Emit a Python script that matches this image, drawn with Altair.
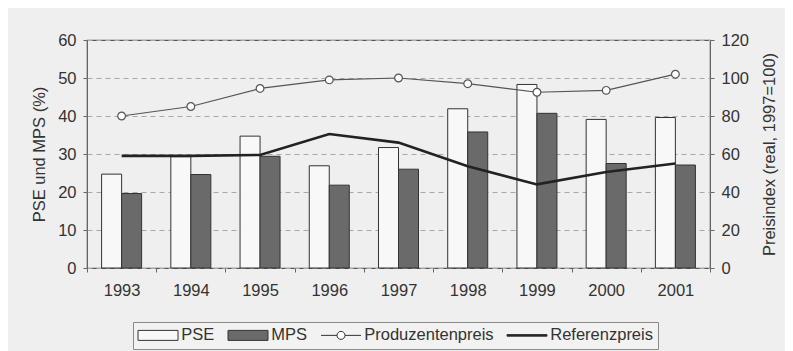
import altair as alt
import pandas as pd

# ---- data ----
years = ["1993", "1994", "1995", "1996", "1997", "1998", "1999", "2000", "2001"]
pse = [24.7, 29.3, 34.7, 26.9, 31.7, 41.9, 48.3, 39.1, 39.6]
mps = [19.6, 24.6, 29.4, 21.8, 26.0, 35.8, 40.7, 27.5, 27.1]
produzentenpreis = [80.0, 85.0, 94.5, 99.0, 100.0, 97.0, 92.5, 93.5, 102.0]
referenzpreis = [59.0, 59.0, 59.5, 70.5, 66.0, 53.5, 44.0, 50.5, 55.0]

legend_entries = ["PSE", "MPS", "Produzentenpreis", "Referenzpreis"]
legend_fill = ["#f8f8f8", "#6a6a6a", "#ffffff", "#222222"]
legend_shape = [
    "M-4,-1H4V1H-4Z",
    "M-4,-1H4V1H-4Z",
    "M-4,0H-0.8M0.8,0H4M0.8,0A0.8,0.8,0,1,1,-0.8,0A0.8,0.8,0,1,1,0.8,0",
    "M-4,-0.16H4V0.16H-4Z",
]

FONT = "Liberation Sans"
FS = 16.5
TXT = "#333333"

bars_df = pd.DataFrame({
    "year": years * 2,
    "series": ["PSE"] * len(years) + ["MPS"] * len(years),
    "value": pse + mps,
})
prod_df = pd.DataFrame({"year": years, "legend": "Produzentenpreis", "value": produzentenpreis})
ref_df = pd.DataFrame({"year": years, "legend": "Referenzpreis", "value": referenzpreis})
leg_df = pd.concat([prod_df, ref_df], ignore_index=True)

x_enc = alt.X(
    "year:N",
    sort=years,
    scale=alt.Scale(paddingInner=0, paddingOuter=0),
    axis=alt.Axis(
        title=None, labelAngle=0, tickBand="extent", tickSize=4,
        labelPadding=10, domain=False, tickColor="#666",
    ),
)

y_left = alt.Y(
    "value:Q",
    scale=alt.Scale(domain=[0, 60]),
    axis=alt.Axis(
        title="PSE und MPS (%)", values=list(range(0, 61, 10)), grid=True,
        gridDash=[5, 4], gridColor="#a8a8a8", gridWidth=1, domain=False,
        tickSize=4, tickColor="#666", labelPadding=7, titlePadding=10,
    ),
)

y_right = alt.Y(
    "value:Q",
    scale=alt.Scale(domain=[0, 120]),
    axis=alt.Axis(
        title="Preisindex (real, 1997=100)", orient="right",
        values=list(range(0, 121, 20)), grid=False, domain=False,
        tickSize=4, tickColor="#666", labelPadding=7, titlePadding=13,
        titleAngle=270, titleBaseline="top",
    ),
)

bars = alt.Chart(bars_df).mark_bar(stroke="#333333", strokeWidth=1).encode(
    x=x_enc,
    xOffset=alt.XOffset(
        "series:N", sort=["PSE", "MPS"],
        scale=alt.Scale(paddingInner=0, paddingOuter=0.73),
    ),
    y=y_left,
    fill=alt.Fill(
        "series:N",
        scale=alt.Scale(domain=legend_entries[:2], range=legend_fill[:2]),
        legend=None,
    ),
)

prod_line = alt.Chart(prod_df).mark_line(color="#555555", strokeWidth=1.2).encode(
    x=x_enc, y=y_right,
)
prod_pts = alt.Chart(prod_df).mark_point(
    filled=True, fill="#ffffff", stroke="#555555", strokeWidth=1.2, size=60, opacity=1
).encode(x=x_enc, y=y_right)
ref_line = alt.Chart(ref_df).mark_line(color="#222222", strokeWidth=2.6).encode(
    x=x_enc, y=y_right,
)

leg = alt.Legend(
    title=None, orient="none", legendX=46, legendY=282, direction="horizontal",
    columns=4, symbolSize=100, symbolOffset=11.75, symbolStrokeColor="#333333",
    symbolStrokeWidth=1, labelFont=FONT, labelFontSize=FS,
    labelColor=TXT, labelOffset=15, columnPadding=11, padding=5,
    strokeColor="#8a8a8a", fillColor="#f2f2f2",
)

legend_layer = alt.Chart(leg_df).mark_point(
    filled=True, opacity=1, stroke="#333333", strokeWidth=1
).encode(
    x=x_enc,
    y=y_right,
    color=alt.Color("legend:N", scale=alt.Scale(domain=legend_entries, range=legend_fill), legend=leg),
    shape=alt.Shape("legend:N", scale=alt.Scale(domain=legend_entries, range=legend_shape), legend=leg),
).transform_filter("datum.value < 0")

right = alt.layer(ref_line, prod_line, prod_pts, legend_layer)

chart = alt.layer(bars, right).resolve_scale(
    y="independent"
).properties(
    width=623,
    height=228,
    padding={"left": 79, "top": 32, "right": 75, "bottom": 83},
    autosize=alt.AutoSizeParams(type="none"),
    background="#efefef",
).configure_view(
    stroke="#555555", strokeWidth=1.2,
).configure_axis(
    labelFont=FONT, labelFontSize=FS, labelColor=TXT,
    titleFont=FONT, titleFontSize=FS, titleColor=TXT, titleFontWeight="normal",
)

chart.save("out.html", embed_options={"renderer": "svg", "actions": False})
